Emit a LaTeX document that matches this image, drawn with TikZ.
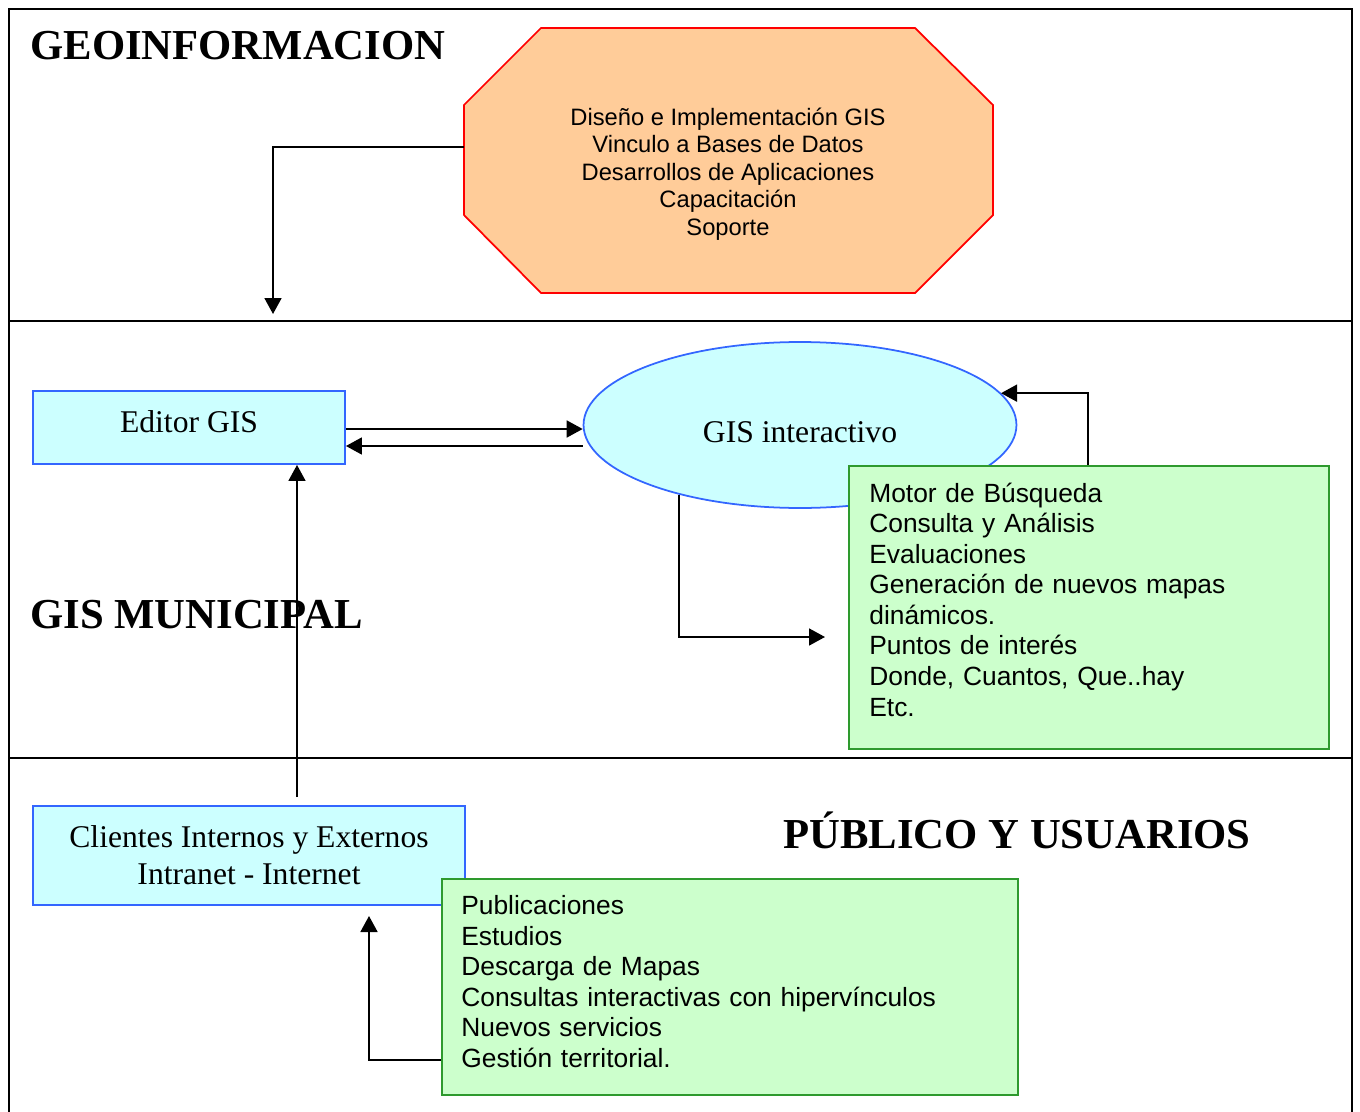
\documentclass[tikz,border=0pt]{standalone}
\usepackage{fontspec}
\setmainfont{Liberation Serif}
\newfontfamily\arial{Liberation Sans}
\usetikzlibrary{arrows.meta,shapes.geometric}

\definecolor{peach}{HTML}{FFCC99}
\definecolor{lightcyan}{HTML}{CCFFFF}
\definecolor{lightgreen}{HTML}{CCFFCC}
\definecolor{boxblue}{HTML}{3366FF}
\definecolor{boxgreen}{HTML}{2E9A2E}

\tikzset{
  arr/.style={-{Triangle[length=0.32cm,width=0.34cm]}, line width=1pt},
  title/.style={font=\fontsize{24.3}{28}\selectfont\bfseries, inner sep=0},
  bluebox/.style={draw=boxblue, fill=lightcyan, line width=1.1pt, font=\fontsize{18}{21}\selectfont, align=center},
  listbox/.style={draw=boxgreen, fill=lightgreen, line width=1.1pt, anchor=north west, inner sep=0},
  listtext/.style={anchor=base west, align=left, inner sep=0, font=\arial\fontsize{15}{17.4}\selectfont}
}

\begin{document}
\begin{tikzpicture}[x=0.02cm,y=-0.02cm]
\useasboundingbox (0,0) rectangle (1360,1112);
% frame and bands
\draw [line width=1.1pt] (9,1112) -- (9,9) -- (1352,9) -- (1352,1112);
\draw [line width=1.1pt] (9,321) -- (1352,321);
\draw [line width=1.1pt] (9,758) -- (1352,758);

\node [title, anchor=west] (geo) at (30,46) {GEOINFORMACION};
\node [title, anchor=west] (mun) at (30,615) {GIS MUNICIPAL};
\node [title] (pub) at (1017,830) {PÚBLICO Y USUARIOS};

% octagon
\filldraw [draw=red, fill=peach, line width=1pt]
  (541,28) -- (915,28) -- (993,105) -- (993,215) -- (915,293) -- (541,293) -- (464,215) -- (464,105) -- cycle;
\node [align=center, font=\arial\fontsize{13.5}{15.6}\selectfont] (serv) at (728,174)
  {Diseño e Implementación GIS\\Vinculo a Bases de Datos\\Desarrollos de Aplicaciones\\Capacitación\\Soporte};
\coordinate (oct) at (464,147);
\coordinate (band) at (273,314);

\node [bluebox, minimum width=6.24cm, minimum height=1.46cm, text depth=0.24cm] (editor) at (189,427.5) {Editor GIS};
\node [ellipse, draw=boxblue, fill=lightcyan, line width=1pt, minimum width=8.66cm, minimum height=3.32cm,
  inner sep=0, text height=0.71cm, font=\fontsize{18}{21}\selectfont] (gis) at (800,425) {GIS interactivo};
\node [listbox, minimum width=9.6cm, minimum height=5.66cm] (motor) at (848,465) {};
\node [listtext, text width=9cm] (motortxt) at (869,502)
  {Motor de Búsqueda\\Consulta y Análisis\\Evaluaciones\\Generación de nuevos mapas\\dinámicos.\\Puntos de interés\\Donde, Cuantos, Que..hay\\Etc.};

\node [bluebox, minimum width=8.64cm, minimum height=1.98cm] (clientes) at (249,855.5)
  {Clientes Internos y Externos\\Intranet - Internet};
\node [listbox, minimum width=11.52cm, minimum height=4.32cm] (pubs) at (441,878) {};
\node [listtext, text width=11cm] (pubstxt) at (461,914.5)
  {Publicaciones\\Estudios\\Descarga de Mapas\\Consultas interactivas con hipervínculos\\Nuevos servicios\\Gestión territorial.};

% connectors
\coordinate (c1) at (297,797);
\coordinate (c2) at (825,637);
\coordinate (c3) at (369,916);
\coordinate (c4) at (1088,0);
\coordinate (c5) at (0,1060);
\coordinate (c6) at (0,429);
\coordinate (c7) at (0,446);

\draw [arr] (oct) -| (band);
\draw [arr] (editor.east |- c6) -- (gis.west |- c6);
\draw [arr] (gis.west |- c7) -- (editor.east |- c7);
\draw [arr] (c1) -- (editor.south -| c1);
\draw [arr] (motor.north -| c4) |- (gis.9);
\draw [arr] (gis.210) |- (c2);
\draw [arr] (pubs.west |- c5) -| (c3);
\end{tikzpicture}
\end{document}
